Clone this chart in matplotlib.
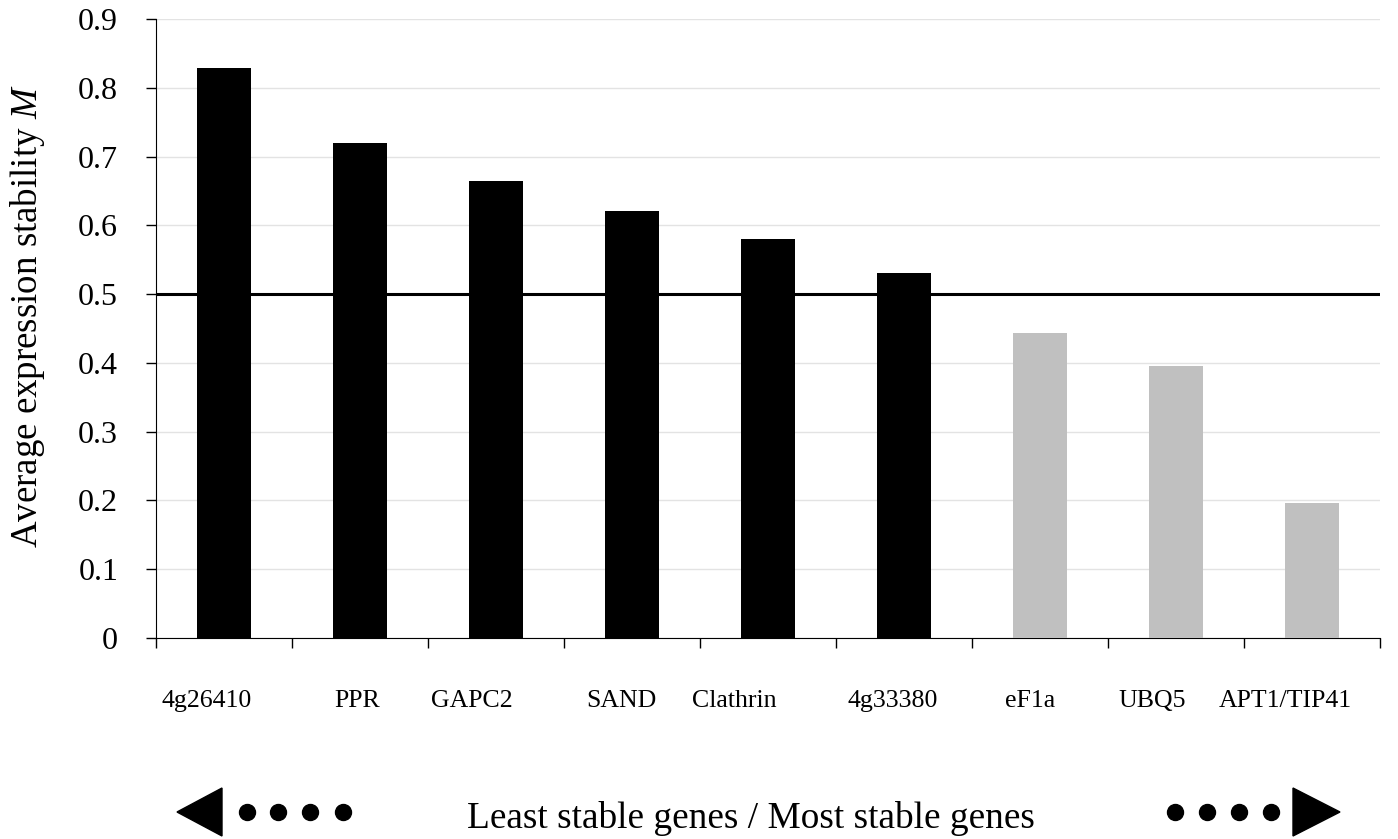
import numpy as np
import matplotlib
matplotlib.use("Agg")
import matplotlib.pyplot as plt
from matplotlib.patches import Polygon

plt.rcParams['font.family'] = ['Liberation Serif', 'DejaVu Serif']
plt.rcParams['mathtext.fontset'] = 'custom'
plt.rcParams['mathtext.rm'] = 'Liberation Serif'
plt.rcParams['mathtext.it'] = 'Liberation Serif:italic'

# Datos
genes = ["4g26410", "PPR", "GAPC2", "SAND", "Clathrin",
         "4g33380", "eF1a", "UBQ5", "APT1/TIP41"]
M_vals = [0.828, 0.720, 0.665, 0.621, 0.580, 0.531, 0.444, 0.395, 0.196]
stable = [False, False, False, False, False, False, True, True, True]
label_shift = [-0.125, -0.022, -0.176, -0.081, -0.25, -0.081, -0.074, -0.176, -0.199]
umbral = 0.5

fig = plt.figure(figsize=(13.98, 8.39), dpi=100)
ax = fig.add_axes([0.1116, 0.2396, 0.8755, 0.7378])

x = np.arange(len(genes))
colores = ['#c0c0c0' if s else 'black' for s in stable]
ax.bar(x, M_vals, width=0.40, color=colores, zorder=3)

# linea de umbral M = 0.5
ax.axhline(umbral, color='black', lw=2.2, zorder=4)

ax.set_xlim(-0.5, len(genes) - 0.5)
ax.set_ylim(0, 0.9)
ax.set_yticks(np.arange(0, 0.91, 0.1))
ax.set_yticklabels(['0'] + ['%.1f' % v for v in np.arange(0.1, 0.91, 0.1)], fontsize=23)
ax.yaxis.grid(True, color='#e3e3e3', lw=1, zorder=0)

# ticks del eje x en los limites de cada categoria
ax.set_xticks(np.arange(-0.5, len(genes), 1.0))
ax.set_xticklabels([])
ax.tick_params(axis='x', direction='out', length=7.2, width=1)
ax.tick_params(axis='y', direction='out', length=7.2, width=1, pad=20)

for i, g in enumerate(genes):
    ax.text(x[i] + label_shift[i], -0.100, g, ha='center', va='baseline', fontsize=18.6)

ax.spines['top'].set_visible(False)
ax.spines['right'].set_visible(False)

# flechas y textos exteriores
ov = fig.add_axes([0, 0, 1, 1])
ov.set_xlim(0, 1398)
ov.set_ylim(839, 0)
ov.axis('off')
ov.text(28, 316, 'Average expression stability $\\it{M}$', rotation=90,
        ha='center', va='center', fontsize=26.6)
ov.add_patch(Polygon([[177, 812], [222, 788], [222, 836]], closed=True, color='black'))
ov.add_patch(Polygon([[1340, 812], [1293, 788], [1293, 836]], closed=True, color='black'))
ov.plot([247, 278, 310, 343], [812] * 4, 'o', color='black', ms=11.5)
ov.plot([1175, 1207, 1239, 1271], [812] * 4, 'o', color='black', ms=11.5)
ov.text(751, 828, 'Least stable genes / Most stable genes', ha='center', va='baseline', fontsize=26.8)

plt.savefig('out.png', dpi=100)
